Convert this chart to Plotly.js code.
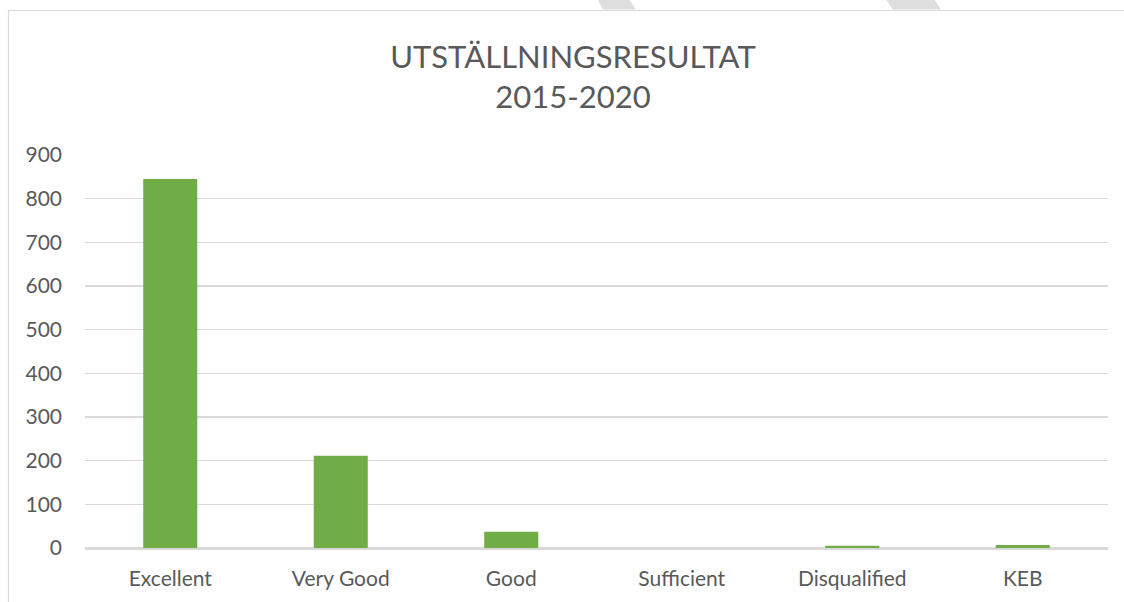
<!DOCTYPE html>
<html>
<head>
<meta charset="utf-8">
<script src="https://cdn.plot.ly/plotly-3.0.1.min.js"></script>
<style>
  html, body { margin: 0; padding: 0; background: #ffffff; }
  #chart { width: 1124px; height: 602px; }
</style>
</head>
<body>
<div id="chart"></div>
<script>
// Data
const categories = ["Excellent", "Very Good", "Good", "Sufficient", "Disqualified", "KEB"];
const counts = [845, 211, 37, 0, 5, 7];
const yTickValues = [0, 100, 200, 300, 400, 500, 600, 700, 800, 900];
const chartTitle = "UTSTÄLLNINGSRESULTAT<br>2015-2020";

// Layout geometry (pixels)
const W = 1124, H = 602;
const L = 85, R = 1108, T = 155, B = 548;
const pw = R - L, ph = B - T;
const px = x => (x - L) / pw;
const py = y => (B - y) / ph;

const fontFam = "Lato, 'Open Sans', sans-serif";
const gray = "#595959";
const lineGray = "#d9d9d9";

const trace = {
  type: "bar",
  x: categories,
  y: counts,
  marker: { color: "#70ad47", line: { width: 0 } },
  hoverinfo: "x+y"
};

function poly(pts) {
  return "M" + pts.map(p => px(p[0]) + "," + py(p[1])).join(" L") + " Z";
}

const layout = {
  width: W,
  height: H,
  margin: { l: L, r: W - R, t: T, b: H - B, pad: 0 },
  paper_bgcolor: "#ffffff",
  plot_bgcolor: "#ffffff",
  showlegend: false,
  bargap: 0.683,
  title: {
    text: chartTitle,
    font: { family: fontFam, size: 31, color: gray },
    x: 573 / W,
    xanchor: "center",
    xref: "container",
    yref: "container",
    y: 1 - 68 / H,
    yanchor: "top"
  },
  xaxis: {
    type: "category",
    showgrid: false,
    zeroline: false,
    showline: true,
    linecolor: lineGray,
    linewidth: 1.5,
    ticks: "",
    tickfont: { family: fontFam, size: 21, color: gray },
    ticklabelstandoff: 11,
    fixedrange: true
  },
  yaxis: {
    range: [0, 900],
    tickmode: "array",
    tickvals: yTickValues,
    ticktext: yTickValues.map(String),
    showgrid: true,
    gridcolor: lineGray,
    gridwidth: 1.5,
    zeroline: true,
    zerolinecolor: lineGray,
    zerolinewidth: 1.5,
    showline: false,
    ticks: "",
    tickfont: { family: fontFam, size: 21, color: gray },
    ticklabelstandoff: 22,
    fixedrange: true
  },
  shapes: [
    {
      type: "rect", xref: "paper", yref: "paper", layer: "below",
      x0: px(8.5), x1: px(1140), y0: py(620), y1: py(10.5),
      line: { color: lineGray, width: 1.2 }, fillcolor: "rgba(0,0,0,0)"
    },
    {
      type: "path", xref: "paper", yref: "paper", layer: "below",
      path: poly([[597, -2], [628, -2], [636, 9.5], [603, 9.5]]),
      fillcolor: "#dedede", line: { width: 0 }
    },
    {
      type: "path", xref: "paper", yref: "paper", layer: "below",
      path: poly([[885, -2], [933, -2], [941, 9.5], [893, 9.5]]),
      fillcolor: "#dedede", line: { width: 0 }
    }
  ]
};

Plotly.newPlot("chart", [trace], layout, { displayModeBar: false, staticPlot: true });
</script>
</body>
</html>
